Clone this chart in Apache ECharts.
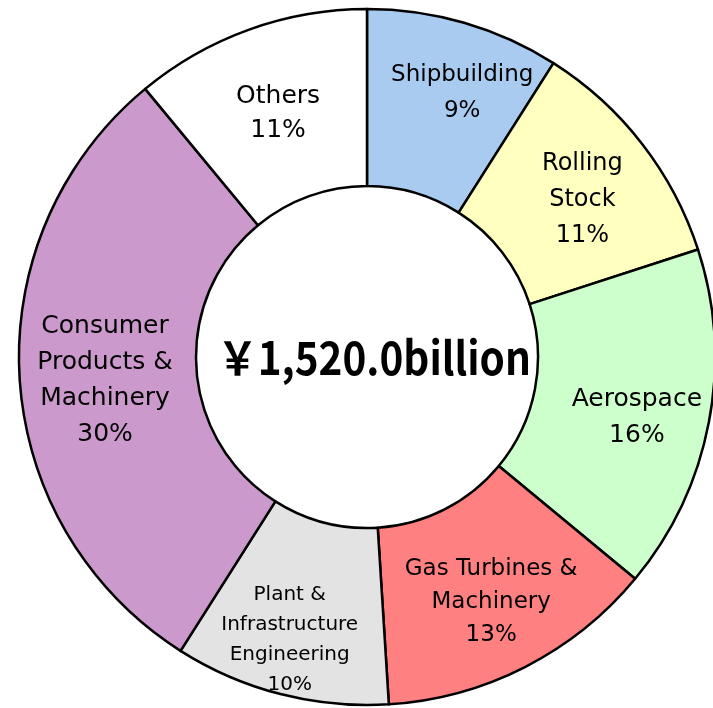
<!DOCTYPE html>
<html>
<head>
<meta charset="utf-8">
<script src="https://cdn.jsdelivr.net/npm/echarts@6/dist/echarts.min.js"></script>
<style>
  html, body { margin: 0; padding: 0; background: #ffffff; }
  #chart { width: 713px; height: 708px; }
</style>
</head>
<body>
<div id="chart"></div>
<script>
// Segment names (clockwise from 12 o'clock) and their share of sales, in %
var segments = [
  'Shipbuilding',
  'Rolling\nStock',
  'Aerospace',
  'Gas Turbines &\nMachinery',
  'Plant &\nInfrastructure\nEngineering',
  'Consumer\nProducts &\nMachinery',
  'Others'
];
var shares = [9, 11, 16, 13, 10, 30, 11];
var segmentColors = ['#A9CBF0', '#FFFFC0', '#CCFFCC', '#FF8080', '#E3E3E3', '#CC99CC', '#FFFFFF'];
var totalLabel = '￥1,520.0billion';

// Per-segment label font sizes (long names are set smaller)
var labelSizes = [23, 24, 25, 23, 20, 25, 25];
var lineHeights = [36, 36, 36, 33, 30, 36, 34];

var chart = echarts.init(document.getElementById('chart'), null, { renderer: 'canvas' });

var pieData = segments.map(function (name, i) {
  return {
    name: name,
    value: shares[i],
    itemStyle: { color: segmentColors[i] },
    label: { fontSize: labelSizes[i], lineHeight: lineHeights[i] }
  };
});

// Small nudges so the labels sit where they read best inside each wedge
function nudge(params) {
  switch (params.dataIndex) {
    case 0: return { dx: 22, dy: -12 };
    case 1: return { dx: 8, dy: 4 };
    case 2: return { dx: 12, dy: 11 };
    case 3: return { dx: 5, dy: 11 };
    case 4: return { dx: -12, dy: 29 };
    case 5: return { dx: 0, dy: 7 };
    default: return { dy: 3 };
  }
}

chart.setOption({
  backgroundColor: '#ffffff',
  animation: false,
  series: [{
    type: 'pie',
    center: [367, 357],
    radius: [171, 348],
    startAngle: 90,
    clockwise: true,
    avoidLabelOverlap: false,
    itemStyle: { borderColor: '#000000', borderWidth: 2.5 },
    emphasis: { scale: false },
    label: {
      show: true,
      position: 'inside',
      formatter: function (p) { return p.name + '\n' + p.value + '%'; },
      color: '#000000',
      fontFamily: 'DejaVu Sans',
      align: 'center'
    },
    labelLine: { show: false },
    labelLayout: nudge,
    data: pieData
  }],
  graphic: [{
    type: 'text',
    x: 374,
    y: 358,
    scaleX: 0.88,
    style: {
      text: totalLabel,
      font: 'bold 46px "Noto Sans CJK JP"',
      fill: '#000000',
      align: 'center',
      verticalAlign: 'middle',
      textShadowColor: '#a8a8a8',
      textShadowOffsetX: 2,
      textShadowOffsetY: 2,
      textShadowBlur: 0
    }
  }]
});
</script>
</body>
</html>
